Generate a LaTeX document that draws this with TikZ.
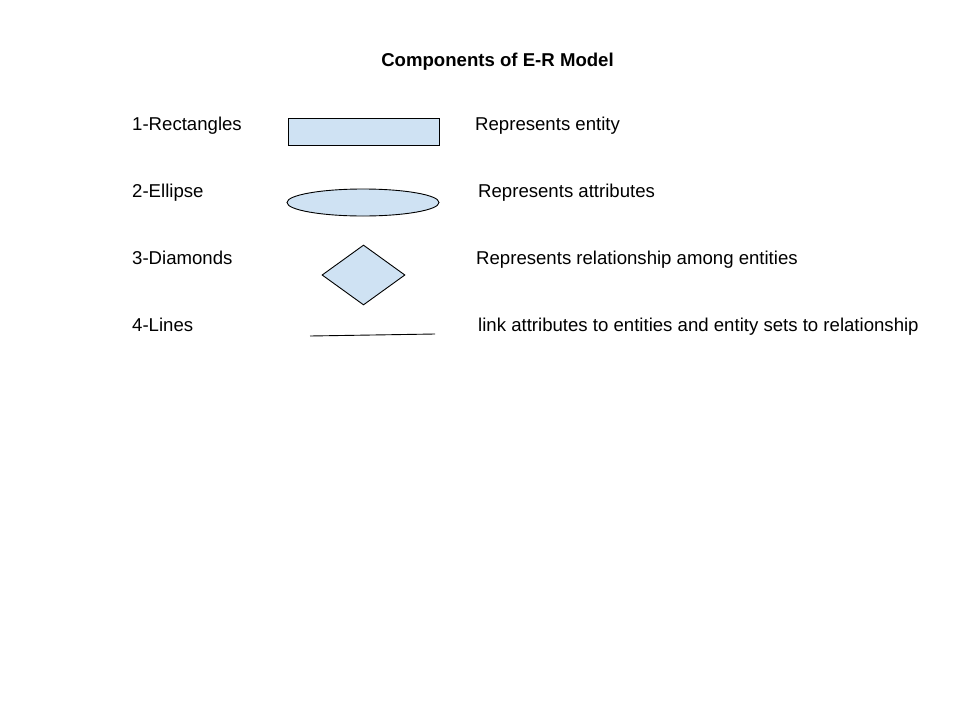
\documentclass[tikz,border=0pt]{standalone}
\usepackage{fontspec}
\setmainfont{Liberation Sans}
\usetikzlibrary{shapes.geometric}
\definecolor{erblue}{RGB}{207,226,243}
\begin{document}
\begin{tikzpicture}[x=1pt,y=-1pt,
        txt/.style={anchor=base west,inner sep=0pt,font=\fontsize{18.6}{22}\selectfont},
        shp/.style={draw,fill=erblue,line width=0.9pt,inner sep=0pt}]
            \useasboundingbox (0,0) rectangle (960,720);
            \node[txt,anchor=base] (title) at (497.5,66.5) {\bfseries Components of E-R Model};
            \node[txt] (l1) at (132,130) {1-Rectangles};
            \node[txt] (l2) at (132,197) {2-Ellipse};
            \node[txt] (l3) at (132,264) {3-Diamonds};
            \node[txt] (l4) at (132,331) {4-Lines};
            \node[shp,rectangle,minimum width=151pt,minimum height=27pt] (rect) at (363.5,131.5) {};
            \node[shp,ellipse,minimum width=152pt,minimum height=27pt] (ell) at (363,202.5) {};
            \node[shp,diamond,aspect=1.38,minimum width=83pt,minimum height=60pt] (dia) at (363.5,275) {};
            \coordinate (la) at (310,336);
            \coordinate (lb) at (435,334);
            \draw[line width=0.9pt] (la) -- (lb);
            \node[txt] (d1) at (475,130) {Represents entity};
            \node[txt] (d2) at (478,197) {Represents attributes};
            \node[txt] (d3) at (476,264) {Represents relationship among entities};
            \node[txt] (d4) at (478,331) {link attributes to entities and entity sets to relationship};
        \end{tikzpicture}
\end{document}
